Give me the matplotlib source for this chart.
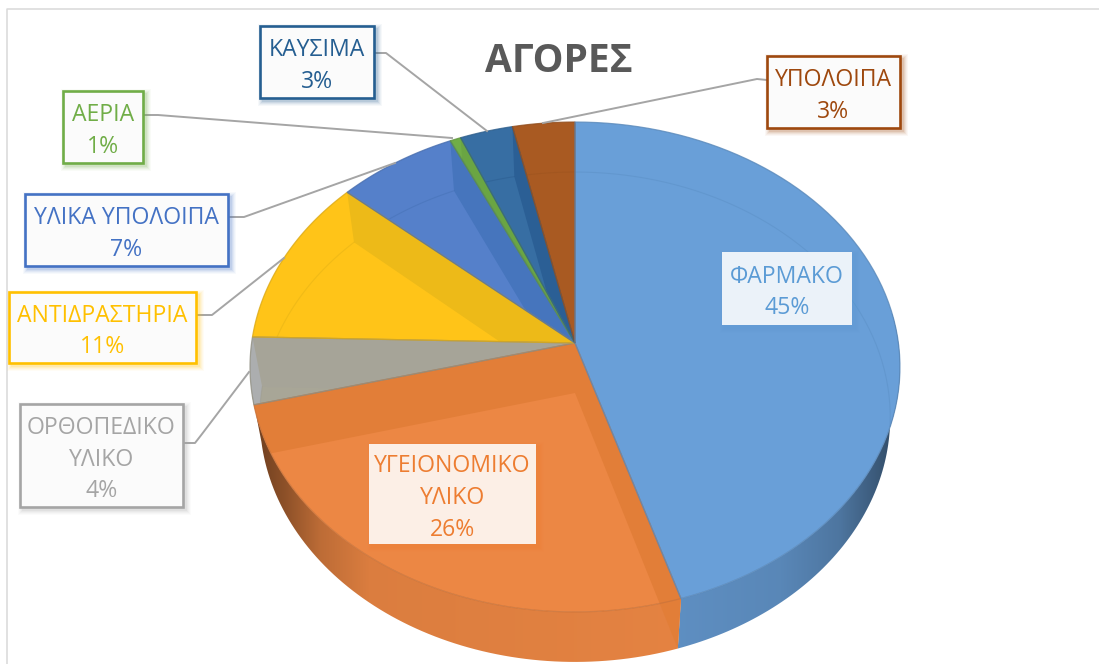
import numpy as np
import matplotlib
matplotlib.use('Agg')
import matplotlib.pyplot as plt
from matplotlib.patches import Polygon, Rectangle
from matplotlib.colors import to_rgb

plt.rcParams['font.family'] = ['Open Sans', 'DejaVu Sans']

title = 'ΑΓΟΡΕΣ'
names = ['ΦΑΡΜΑΚΟ', 'ΥΓΕΙΟΝΟΜΙΚΟ\nΥΛΙΚΟ', 'ΟΡΘΟΠΕΔΙΚΟ\nΥΛΙΚΟ', 'ΑΝΤΙΔΡΑΣΤΗΡΙΑ',
         'ΥΛΙΚΑ ΥΠΟΛΟΙΠΑ', 'ΑΕΡΙΑ', 'ΚΑΥΣΙΜΑ', 'ΥΠΟΛΟΙΠΑ']
values = [45.2, 25.8, 4.4, 11.1, 6.6, 0.6, 2.9, 3.4]
shown = [45, 26, 4, 11, 7, 1, 3, 3]

face = ['#699FD8', '#EC8744', '#A8A697', '#FFC418', '#5580CA', '#70AD47', '#376EA3', '#A95A22']
band = ['#5F96CF', '#E27E38', '#A6A498', '#EDBA18', '#4675BD', '#6AA543', '#2B5F95', '#A55820']
text_col = ['#5B9BD5', '#ED7D31', '#A5A5A5', '#FFC000', '#4472C4', '#70AD47', '#255E91', '#9E480E']

# label boxes: left, top, right, bottom in pixels
boxes = [(722, 252, 852, 325), (369, 444, 536, 544), (20, 404, 183, 507), (9, 292, 196, 363),
         (25, 194, 228, 266), (63, 91, 143, 163), (260, 26, 374, 98), (767, 56, 900, 128)]
leaders = [None, None,
           [(183, 443), (195, 443), (202, 434), (249, 372)],
           [(196, 315), (212, 315), (284, 258)],
           [(228, 217), (244, 217), (395, 163)],
           [(143, 115), (158, 115), (452, 138)],
           [(374, 53), (386, 53), (487, 131)],
           [(767, 80), (757, 79), (543, 123)]]


def top_rim(deg):
    t = np.radians(deg)
    u, v = np.sin(t), -np.cos(t)
    d = 1 - 0.0979 * v
    return 575 + 323.4 * u / d, 343 + 242.6 * v / d


def low_rim(deg):
    x, y = top_rim(deg)
    return 575 + (x - 575) * 0.97, y + 50


def arc(fn, a, b, n=80):
    x, y = fn(np.linspace(a, b, n))
    return np.column_stack([x, y])


def shade(col, k):
    return tuple(np.array(to_rgb(col)) * k)


def wall(col, a, b, xs, ks):
    # side wall: horizontal gradient clipped to the band between the two rims
    pts = np.vstack([arc(top_rim, a, b), arc(low_rim, b, a)])
    grid = np.arange(xs[0], xs[-1] + 1)
    k = np.interp(grid, xs, ks)
    rgb = np.outer(k, to_rgb(col)).reshape(1, -1, 3)
    im = ax.imshow(rgb, extent=(xs[0], xs[-1], 664, 300), aspect='auto', zorder=1, interpolation='bilinear')
    im.set_clip_path(Polygon(pts, transform=ax.transData))


fig = plt.figure(figsize=(10.99, 6.64), dpi=100)
ax = fig.add_axes([0, 0, 1, 1])

ax.plot([7, 7, 1099], [664, 9, 9], color='#D9D9D9', lw=1.1)

ends = np.cumsum(values) / sum(values) * 360
starts = np.concatenate([[0], ends[:-1]])
apex = np.array([575, 343])
apex2 = np.array([575, 393])

wall(face[0], 83, ends[0], [670, 780, 840, 880, 905], [0.9, 0.85, 0.74, 0.55, 0.42])
wall(face[1], ends[0], ends[1] + 3, [245, 285, 320, 370, 690], [0.42, 0.6, 0.8, 0.93, 0.97])
# cut face seen through the orange wall
ax.add_patch(Polygon([top_rim(ends[0]), low_rim(ends[0]), apex2], fc=band[1], ec='none', zorder=1.5))

# top of the pie: draw the big slice last so its edge stays clean
for i in [1, 2, 3, 4, 5, 6, 7, 0]:
    a, b = starts[i], ends[i]
    pts = np.vstack([apex, arc(top_rim, a, b)])
    wedge = Polygon(pts, fc='#ACAEAF' if i == 2 else face[i], ec='none', zorder=2)
    ax.add_patch(wedge)
    if i == 2:
        q = Polygon(np.vstack([apex2, arc(low_rim, a - 5, b + 30)]), fc=face[i], ec='none', zorder=2.05)
        ax.add_patch(q)
        q.set_clip_path(wedge)
    for deg in (a, b):
        q = Polygon([apex, top_rim(deg), low_rim(deg), apex2], fc=band[i], ec='none', zorder=2.1)
        ax.add_patch(q)
        q.set_clip_path(wedge)
    inner = arc(low_rim, a, b)
    ln, = ax.plot(inner[:, 0], inner[:, 1], color=shade(band[i], 0.93), lw=0.8, alpha=0.4, zorder=2.2)
    ln.set_clip_path(wedge)
    ax.add_patch(Polygon(pts, fc='none', ec=shade(face[i], 0.86), lw=0.9, alpha=0.8, zorder=2.3))

# labels
for i, name in enumerate(names):
    l, t, r, b = boxes[i]
    if leaders[i] is not None:
        xs, ys = zip(*leaders[i])
        ax.plot(xs, ys, color='#A5A5A5', lw=1.4, zorder=4)
    for s, al in ((10, 0.04), (8, 0.05), (6, 0.07), (4, 0.09), (2, 0.12)):
        ax.add_patch(Rectangle((l + 3 - s / 2, t + 3 - s / 2), r - l + s, b - t + s, fc=text_col[i],
                               ec='none', alpha=al, zorder=5))
    if i < 2:
        ax.add_patch(Rectangle((l, t), r - l, b - t, fc='white', alpha=0.88, ec='none', zorder=6))
    else:
        ax.add_patch(Rectangle((l, t), r - l, b - t, fc='#FBFBFB', ec=text_col[i], lw=1.9, zorder=6))
    ax.text((l + r) / 2, (t + b) / 2 + 4, name + '\n' + str(shown[i]) + '%', color=text_col[i], ha='center',
            va='center', fontsize=16.6, linespacing=1.42, zorder=7)

ax.text(559, 62, title, color='#595959', fontsize=28, fontweight='bold', ha='center', va='center', zorder=7)

ax.set_xlim(0, 1099)
ax.set_ylim(664, 0)
ax.axis('off')
fig.savefig('out.png', dpi=100)
